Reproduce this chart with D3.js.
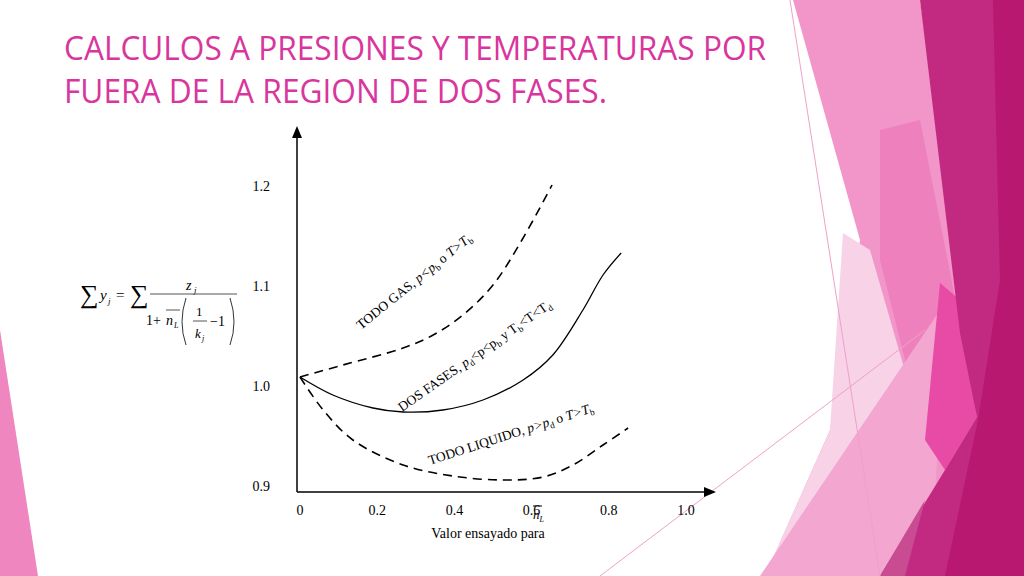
<!DOCTYPE html>
<html><head><meta charset="utf-8">
<script src="https://cdn.jsdelivr.net/npm/d3@7"></script>
<style>body{margin:0}svg{display:block}</style></head>
<body><svg id="c" width="1024" height="576"></svg>
<script>
const xTicks=[0,0.2,0.4,0.6,0.8,1.0];
const yTicks=[0.9,1.0,1.1,1.2];
const gasX=[0,.111,.267,.345,.422,.5,.575,.653];
const gasY=[1.009,1.021,1.038,1.051,1.071,1.101,1.146,1.201];
const dosX=[0,.085,.189,.267,.370,.474,.578,.655,.733,.785,.832];
const dosY=[1.009,.991,.978,.974,.976,.986,1.006,1.031,1.076,1.111,1.133];
const liqX=[0,.060,.137,.267,.396,.526,.630,.707,.785,.850];
const liqY=[1.009,.976,.946,.921,.910,.906,.909,.921,.941,.958];

const svg=d3.select("#c");
svg.append("rect").attr("width",1024).attr("height",576).attr("fill","#fff");
const polys=[
 {p:[[793,0],[920,0],[1000,576],[765,576],[830,430],[860,240]],c:"#f295c9"},
 {p:[[843,233],[870,250],[925,440],[870,540],[800,576],[765,576],[830,430]],c:"#f8d2e6"},
 {p:[[880,130],[920,120],[962,333],[947,400],[925,440],[880,260]],c:"#ee80be"},
 {p:[[760,576],[947,300],[930,576]],c:"#f3a6d0"},
 {p:[[940,283],[960,300],[977,417],[945,470],[925,440]],c:"#e84ba5"},
 {p:[[920,0],[1024,0],[1024,576],[880,576],[945,470],[977,417],[960,333]],c:"#c12a80"},
 {p:[[993,0],[1024,0],[1024,576],[945,576],[978,420],[1000,280]],c:"#b8186f"},
 {p:[[880,576],[925,500],[905,576]],c:"#c94b92"},
 {p:[[0,330],[38,576],[0,576]],c:"#ef86c0"}
];
polys.forEach(o=>svg.append("polygon").attr("points",o.p.map(d=>d.join(",")).join(" ")).attr("fill",o.c));
svg.append("line").attr("x1",790).attr("y1",0).attr("x2",880).attr("y2",576).attr("stroke","#eea0c8").attr("stroke-width",1);
svg.append("line").attr("x1",600).attr("y1",576).attr("x2",925).attr("y2",330).attr("stroke","#eea0c8").attr("stroke-width",1);

const title=svg.append("text").attr("fill","#d8369d").attr("font-family","'Open Sans',sans-serif").attr("font-size",32).attr("font-weight",500);
title.append("tspan").attr("x",64).attr("y",60).attr("textLength",702).attr("lengthAdjust","spacingAndGlyphs").text("CALCULOS A PRESIONES Y TEMPERATURAS POR");
title.append("tspan").attr("x",64).attr("y",103).attr("textLength",543).attr("lengthAdjust","spacingAndGlyphs").text("FUERA DE LA REGION DE DOS FASES.");

const x=d3.scaleLinear().domain([0,1]).range([300,686]);
const y=d3.scaleLinear().domain([0.9,1.2]).range([486,186]);
const F="'Liberation Serif','Times New Roman',serif";
svg.append("line").attr("x1",297).attr("y1",492).attr("x2",297).attr("y2",136).attr("stroke","#000").attr("stroke-width",1.5);
svg.append("polygon").attr("points","297,126 292,138 302,138").attr("fill","#000");
svg.append("line").attr("x1",297).attr("y1",492).attr("x2",706).attr("y2",492).attr("stroke","#000").attr("stroke-width",1.5);
svg.append("polygon").attr("points","716,492 704,487 704,497").attr("fill","#000");
xTicks.forEach(t=>svg.append("text").attr("x",x(t)).attr("y",515).attr("text-anchor","middle").attr("font-family",F).attr("font-size",14).text(t===0?"0":t.toFixed(1)));
yTicks.forEach(t=>svg.append("text").attr("x",270).attr("y",y(t)+5).attr("text-anchor","end").attr("font-family",F).attr("font-size",14).text(t.toFixed(1)));
svg.append("text").attr("x",488).attr("y",538).attr("text-anchor","middle").attr("font-family",F).attr("font-size",14).text("Valor ensayado para");
const nl=svg.append("text").attr("x",533).attr("y",519).attr("font-family",F).attr("font-size",13).attr("font-style","italic");
nl.append("tspan").text("n");nl.append("tspan").attr("font-size",8).attr("dy",3).text("L");
svg.append("line").attr("x1",533).attr("x2",542).attr("y1",506).attr("y2",506).attr("stroke","#000");

const line=d3.line().x(d=>x(d[0])).y(d=>y(d[1])).curve(d3.curveCatmullRom);
const mk=(X,Y)=>X.map((v,i)=>[v,Y[i]]);
svg.append("path").attr("d",line(mk(gasX,gasY))).attr("fill","none").attr("stroke","#000").attr("stroke-width",1.6).attr("stroke-dasharray","9,6");
svg.append("path").attr("d",line(mk(dosX,dosY))).attr("fill","none").attr("stroke","#000").attr("stroke-width",1.3);
svg.append("path").attr("d",line(mk(liqX,liqY))).attr("fill","none").attr("stroke","#000").attr("stroke-width",1.6).attr("stroke-dasharray","9,6");

function label(px,py,ang,parts){
 const t=svg.append("text").attr("transform",`translate(${px},${py}) rotate(${ang})`).attr("font-family",F).attr("font-size",13.5);
 parts.forEach(p=>{const s=t.append("tspan").text(p[0]); if(p[1]==="i")s.attr("font-style","italic"); if(p[1]==="s")s.attr("font-size",9).attr("dy",3); if(p[1]==="u")s.attr("dy",-3);});
}
label(361,330,-39,[["TODO GAS, "],["p<p","i"],["b","s"],[" o ","u"],["T>T","i"],["b","s"]]);
label(402,412,-35,[["DOS FASES, "],["p","i"],["d","s"],["<p<p","u"],["b","s"],[" y T","u"],["b","s"],["<T<T","u"],["d","s"]]);
label(430,465,-18,[["TODO LIQUIDO, "],["p>p","i"],["d","s"],[" o ","u"],["T>T","i"],["b","s"]]);

const fm=svg.append("g").attr("font-family",F);
fm.append("text").attr("x",80).attr("y",303).attr("font-size",26).text("∑");
fm.append("text").attr("x",100).attr("y",300).attr("font-size",15).attr("font-style","italic").text("y");
fm.append("text").attr("x",108).attr("y",304).attr("font-size",9).attr("font-style","italic").text("j");
fm.append("text").attr("x",116).attr("y",300).attr("font-size",15).text("=");
fm.append("text").attr("x",130).attr("y",303).attr("font-size",26).text("∑");
fm.append("text").attr("x",186).attr("y",290).attr("font-size",14).attr("font-style","italic").text("z");
fm.append("text").attr("x",194).attr("y",293).attr("font-size",9).attr("font-style","italic").text("j");
fm.append("line").attr("x1",150).attr("x2",237).attr("y1",294).attr("y2",294).attr("stroke","#555");
fm.append("text").attr("x",146).attr("y",325).attr("font-size",14).text("1+");
fm.append("text").attr("x",166).attr("y",325).attr("font-size",14).attr("font-style","italic").text("n");
fm.append("text").attr("x",174).attr("y",328).attr("font-size",8).attr("font-style","italic").text("L");
fm.append("line").attr("x1",166).attr("x2",180).attr("y1",310).attr("y2",310).attr("stroke","#555");
fm.append("path").attr("d","M186,298 Q178,322 186,345").attr("fill","none").attr("stroke","#333");
fm.append("path").attr("d","M230,298 Q238,322 230,345").attr("fill","none").attr("stroke","#333");
fm.append("text").attr("x",196).attr("y",316).attr("font-size",13).text("1");
fm.append("line").attr("x1",193).attr("x2",207).attr("y1",321).attr("y2",321).attr("stroke","#555");
fm.append("text").attr("x",195).attr("y",338).attr("font-size",13).attr("font-style","italic").text("k");
fm.append("text").attr("x",202).attr("y",341).attr("font-size",8).attr("font-style","italic").text("j");
fm.append("text").attr("x",210).attr("y",326).attr("font-size",14).text("−1");
</script></body></html>
